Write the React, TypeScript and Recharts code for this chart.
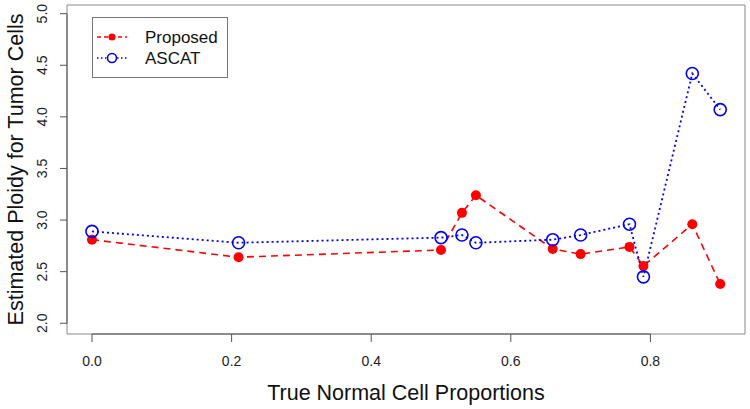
import * as React from 'react';
import { LineChart, Line, XAxis, YAxis, ReferenceArea, ReferenceLine, Label } from 'recharts';

const normalProportions = [0, 0.21, 0.5, 0.53, 0.55, 0.66, 0.7, 0.77, 0.79, 0.86, 0.9];
const proposedPloidy = [2.81, 2.64, 2.71, 3.07, 3.24, 2.72, 2.67, 2.74, 2.555, 2.96, 2.38];
const ascatPloidy = [2.89, 2.78, 2.83, 2.855, 2.78, 2.81, 2.855, 2.96, 2.45, 4.42, 4.07];

const xTicks = [0, 0.2, 0.4, 0.6, 0.8];
const yTicks = [2, 2.5, 3, 3.5, 4, 4.5, 5];

// plot region extends a bit past the data, like R's default 4% padding
const xDomain: [number, number] = [-0.0358, 0.9355];
const yDomain: [number, number] = [1.896, 5.084];

const FONT = '"Liberation Sans", Arial, Helvetica, sans-serif';
const RED = '#ff0000';
const BLUE = '#0000ff';

const chartData = normalProportions.map((x, i) => ({
  x,
  proposed: proposedPloidy[i],
  ascat: ascatPloidy[i],
}));

const XTick = ({ x, y, payload }: any) => (
  <text x={x} y={y + 10} textAnchor="middle" fontSize={14} fill="#222" fontFamily={FONT}>
    {Number(payload.value).toFixed(1)}
  </text>
);

const YTick = ({ x, y, payload }: any) => (
  <text
    x={x}
    y={y}
    textAnchor="middle"
    fontSize={14}
    fill="#222"
    fontFamily={FONT}
    transform={`rotate(-90 ${x} ${y})`}
  >
    {Number(payload.value).toFixed(1)}
  </text>
);

const RedDot = ({ cx, cy, index }: any) => <circle key={`p${index}`} cx={cx} cy={cy} r={5} fill={RED} stroke="none" />;
const BlueCircle = ({ cx, cy, index }: any) => (
  <circle key={`a${index}`} cx={cx} cy={cy} r={6} fill="none" stroke={BLUE} strokeWidth={1.6} />
);

function LegendBox() {
  return (
    <div
      style={{
        position: 'absolute',
        left: 92,
        top: 17,
        width: 136,
        height: 61,
        boxSizing: 'border-box',
        border: '1px solid #777',
        background: '#fff',
        fontFamily: FONT,
        fontSize: 17,
        color: '#111',
      }}
    >
      <svg width={134} height={59} style={{ position: 'absolute', left: 0, top: 0 }}>
        <line x1={4} x2={34} y1={19} y2={19} stroke={RED} strokeWidth={1.3} strokeDasharray="4 3" />
        <circle cx={19} cy={19} r={3.6} fill={RED} />
        <line x1={4} x2={34} y1={40} y2={40} stroke={BLUE} strokeWidth={1.5} strokeDasharray="1.5 2.5" />
        <circle cx={19} cy={40} r={4.5} fill="#fff" stroke={BLUE} strokeWidth={1.6} />
        <text x={52} y={25} fontSize={17} fontFamily={FONT} fill="#111">Proposed</text>
        <text x={52} y={46} fontSize={17} fontFamily={FONT} fill="#111">ASCAT</text>
      </svg>
    </div>
  );
}

export default function App() {
  return (
    <div style={{ position: 'fixed', left: 0, top: 0, width: 750, height: 409, background: '#fff' }}>
      <LineChart width={750} height={409} data={chartData} margin={{ top: 5, right: 5, left: 0, bottom: 0 }}>
        <XAxis
          dataKey="x"
          type="number"
          domain={xDomain}
          allowDataOverflow
          ticks={xTicks}
          axisLine={false}
          tickLine={{ stroke: '#555' }}
          tickSize={8}
          tickMargin={14}
          tick={<XTick />}
          height={75}
        >
          <Label
            content={({ viewBox }: any) => (
              <text
                x={viewBox.x + viewBox.width / 2}
                y={viewBox.y + viewBox.height - 9}
                textAnchor="middle"
                fontSize={21.5}
                fontFamily={FONT}
                fill="#111"
              >
                True Normal Cell Proportions
              </text>
            )}
          />
        </XAxis>
        <YAxis
          type="number"
          domain={yDomain}
          allowDataOverflow
          ticks={yTicks}
          axisLine={false}
          tickLine={{ stroke: '#555' }}
          tickSize={7}
          tickMargin={13}
          tick={<YTick />}
          width={67}
        >
          <Label
            content={({ viewBox }: any) => {
              const cx = 23;
              const cy = viewBox.y + viewBox.height / 2;
              return (
                <text
                  x={cx}
                  y={cy}
                  textAnchor="middle"
                  fontSize={21.5}
                  fontFamily={FONT}
                  fill="#111"
                  transform={`rotate(-90 ${cx} ${cy})`}
                >
                  Estimated Ploidy for Tumor Cells
                </text>
              );
            }}
          />
        </YAxis>
        <ReferenceArea
          x1={xDomain[0]}
          x2={xDomain[1]}
          y1={yDomain[0]}
          y2={yDomain[1]}
          fill="none"
          stroke="#888"
          strokeWidth={1}
          ifOverflow="visible"
        />
        <ReferenceLine
          segment={[{ x: xTicks[0], y: yDomain[0] }, { x: xTicks[xTicks.length - 1], y: yDomain[0] }]}
          stroke="#555"
          ifOverflow="visible"
        />
        <ReferenceLine
          segment={[{ x: xDomain[0], y: yTicks[0] }, { x: xDomain[0], y: yTicks[yTicks.length - 1] }]}
          stroke="#555"
          ifOverflow="visible"
        />
        <Line
          dataKey="proposed"
          type="linear"
          stroke={RED}
          strokeWidth={1.6}
          strokeDasharray="7 5"
          dot={<RedDot />}
          activeDot={false}
          isAnimationActive={false}
        />
        <Line
          dataKey="ascat"
          type="linear"
          stroke={BLUE}
          strokeWidth={1.8}
          strokeDasharray="2 3"
          dot={<BlueCircle />}
          activeDot={false}
          isAnimationActive={false}
        />
      </LineChart>
      <LegendBox />
    </div>
  );
}
